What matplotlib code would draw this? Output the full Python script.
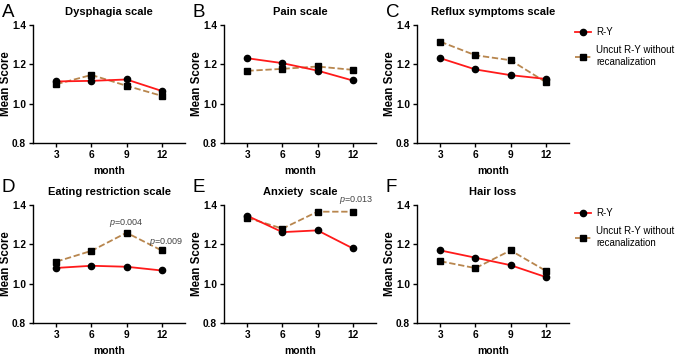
import numpy as np
import matplotlib
matplotlib.use('Agg')
import matplotlib.pyplot as plt

plt.rcParams['font.family'] = ['Liberation Sans', 'DejaVu Sans']
plt.rcParams['mathtext.fontset'] = 'custom'
plt.rcParams['mathtext.it'] = 'Liberation Sans:italic'
plt.rcParams['mathtext.rm'] = 'Liberation Sans'

months = [3, 6, 9, 12]
titles = ['Dysphagia scale', 'Pain scale', 'Reflux symptoms scale',
          'Eating restriction scale', 'Anxiety  scale', 'Hair loss']
letters = ['A', 'B', 'C', 'D', 'E', 'F']

# R-Y (red, circles)
ry_dysphagia = [1.113, 1.116, 1.123, 1.065]
ry_pain = [1.231, 1.206, 1.168, 1.118]
ry_reflux = [1.231, 1.174, 1.145, 1.126]
ry_eating = [1.080, 1.091, 1.086, 1.067]
ry_anxiety = [1.345, 1.262, 1.271, 1.180]
ry_hair = [1.169, 1.132, 1.094, 1.034]

# Uncut R-Y without recanalization (brown dashed, squares)
uc_dysphagia = [1.099, 1.146, 1.091, 1.040]
uc_pain = [1.167, 1.177, 1.189, 1.172]
uc_reflux = [1.315, 1.246, 1.221, 1.110]
uc_eating = [1.112, 1.167, 1.259, 1.169]
uc_anxiety = [1.335, 1.280, 1.366, 1.366]
uc_hair = [1.114, 1.079, 1.169, 1.066]

ry_all = [ry_dysphagia, ry_pain, ry_reflux, ry_eating, ry_anxiety, ry_hair]
uc_all = [uc_dysphagia, uc_pain, uc_reflux, uc_eating, uc_anxiety, uc_hair]

# p-value notes: (panel index, label, x, y)
p_notes = [(3, '$p$=0.004', 9.0, 1.307),
           (3, '$p$=0.009', 12.4, 1.211),
           (4, '$p$=0.013', 12.3, 1.425)]

red = '#FF1A1A'
brown = '#B8864E'

W, H = 677, 355
fig = plt.figure(figsize=(W / 100, H / 100), dpi=100)

lefts = [33, 224, 417]
bottoms = [H - 143, H - 323]
aw, ah = 152, 118
letter_y = [1.105, 1.15]

axes = []
for i in range(6):
    r, c = divmod(i, 3)
    ax = fig.add_axes([lefts[c] / W, bottoms[r] / H, aw / W, ah / H])
    axes.append(ax)
    ax.plot(months, ry_all[i], color=red, lw=1.3, marker='o', ms=4.5,
            mfc='black', mec='black', label='R-Y', zorder=3)
    ax.plot(months, uc_all[i], color=brown, lw=1.3, ls=(0, (3.5, 1.5)), marker='s', ms=4.5,
            mfc='black', mec='black', label='Uncut R-Y without\nrecanalization', zorder=2)
    ax.set_xlim(1, 14)
    ax.set_ylim(0.8, 1.4)
    ax.set_xticks(months)
    ax.set_yticks([0.8, 1.0, 1.2, 1.4])
    ax.set_yticklabels(['0.8', '1.0', '1.2', '1.4'])
    for s in ['top', 'right']:
        ax.spines[s].set_visible(False)
    for s in ['left', 'bottom']:
        ax.spines[s].set_linewidth(1.0)
    ax.tick_params(direction='out', length=3, width=1.0, labelsize=7.3, pad=2)
    for lab in ax.get_xticklabels() + ax.get_yticklabels():
        lab.set_fontweight('bold')
    ax.set_title(titles[i], fontsize=8, fontweight='bold', pad=7)
    ax.set_xlabel('month', fontsize=7.5, fontweight='bold', labelpad=4)
    ax.set_ylabel('Mean Score', fontsize=8.3, fontweight='bold')
    ax.yaxis.set_label_coords(-0.14, 0.5)
    ax.text(-0.205, letter_y[r], letters[i], transform=ax.transAxes, fontsize=13.5,
            ha='left', va='center')

for idx, txt, x, y in p_notes:
    axes[idx].text(x, y, txt, fontsize=6.5, color='#444444', ha='center',
                   va='center', clip_on=False)

for r in range(2):
    h, l = axes[r * 3 + 2].get_legend_handles_labels()
    fig.legend(h, l, loc='upper left',
               bbox_to_anchor=(575 / W, (H - 27 - r * 181) / H),
               frameon=False, fontsize=7, handlelength=1.6, handletextpad=0.6,
               labelspacing=0.85, borderaxespad=0, borderpad=0)

fig.savefig('out.png', dpi=100)
